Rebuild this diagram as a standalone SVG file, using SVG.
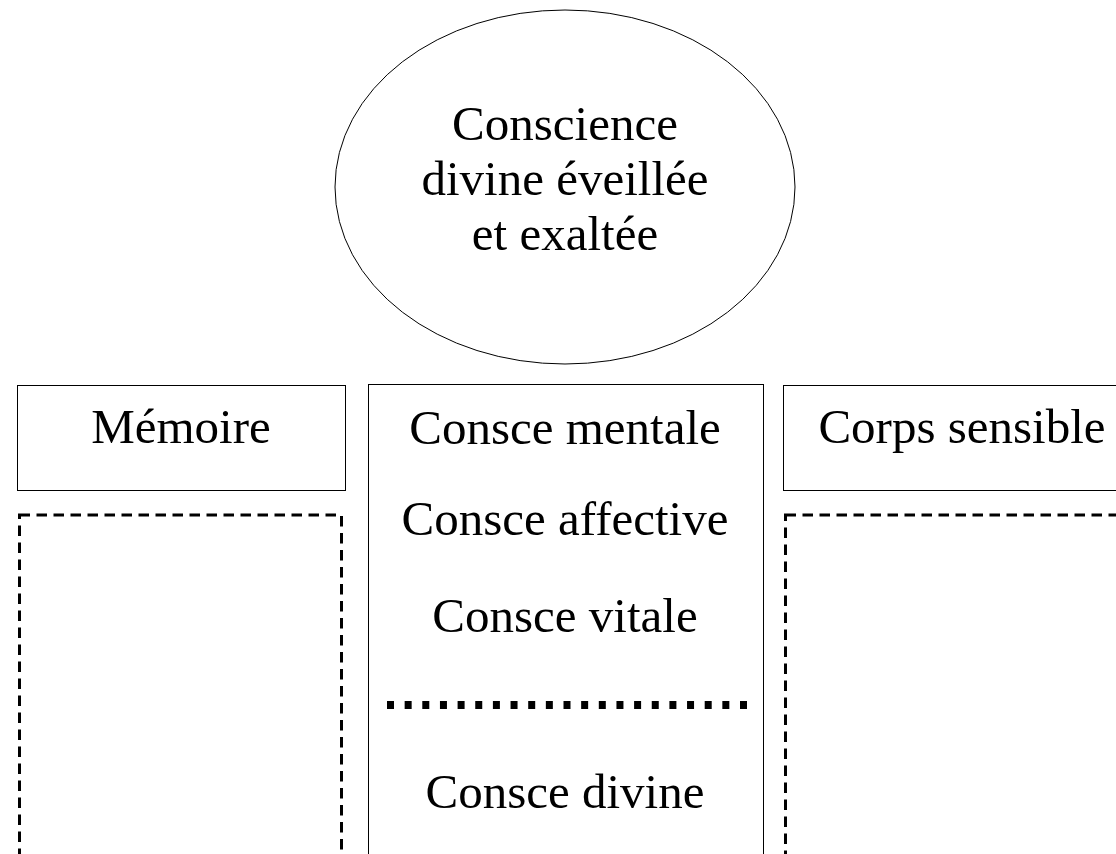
<svg xmlns="http://www.w3.org/2000/svg" width="1116" height="854" viewBox="0 0 1116 854">
<style>
text{font-family:"Liberation Serif","Times New Roman",serif;font-size:49px;fill:#000;text-anchor:middle}
.box{fill:#fff;stroke:#000;stroke-width:1}
.dash{fill:none;stroke:#000;stroke-width:3;stroke-dasharray:10.5 6.5}
</style>
<rect width="1116" height="854" fill="#fff"/>
<g id="top">
<ellipse cx="565" cy="187" rx="230" ry="177" class="box"/>
<text x="565" y="140">Conscience</text>
<text x="565" y="195">divine éveillée</text>
<text x="565" y="250">et exaltée</text>
</g>
<g id="memoire">
<rect x="17.5" y="385.5" width="328" height="105" class="box"/>
<text x="181" y="443">Mémoire</text>
</g>
<g id="memoire-area">
<rect x="19.5" y="515" width="322" height="360" class="dash"/>
</g>
<g id="centre">
<rect x="368.5" y="384.5" width="395" height="490" class="box"/>
<text x="565" y="444">Consce mentale</text>
<text x="565" y="535">Consce affective</text>
<text x="565" y="632">Consce vitale</text>
<line x1="387" y1="705" x2="747" y2="705" stroke="#000" stroke-width="8" stroke-dasharray="7 10.65"/>
<text x="565" y="808">Consce divine</text>
</g>
<g id="corps">
<rect x="783.5" y="385.5" width="340" height="105" class="box"/>
<text x="962" y="443">Corps sensible</text>
</g>
<g id="corps-area">
<rect x="785.5" y="515" width="340" height="360" class="dash"/>
</g>
<g id="connectors"/>
</svg>
